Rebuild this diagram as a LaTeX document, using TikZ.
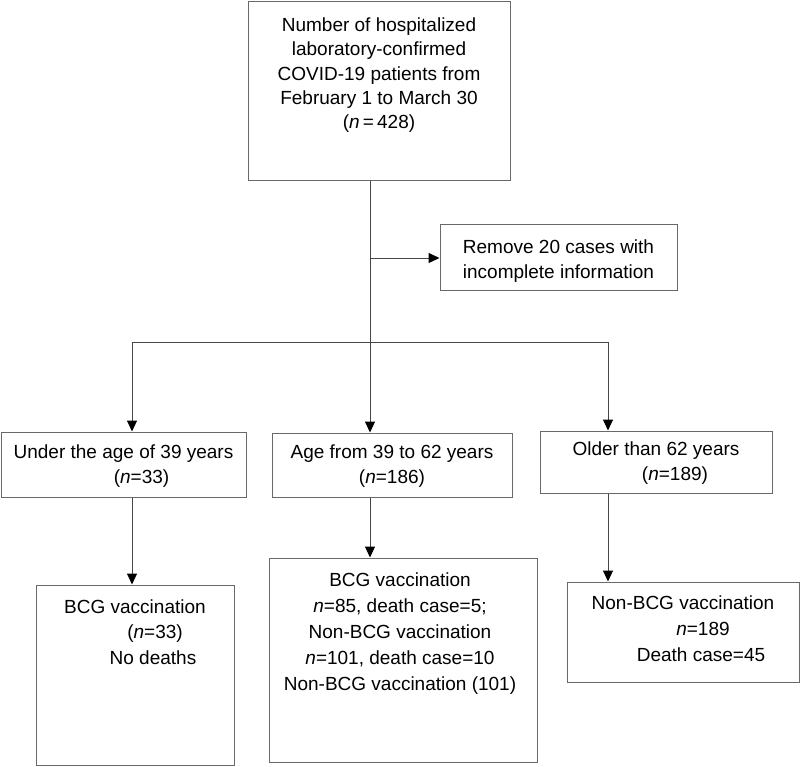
\documentclass[tikz,border=0pt]{standalone}
\usepackage{fontspec}
\setmainfont{Liberation Sans}
\usetikzlibrary{arrows.meta,positioning}
\definecolor{boxgray}{RGB}{105,105,105}
\definecolor{linegray}{RGB}{70,70,70}
\tikzset{
  box/.style={draw=boxgray, line width=1pt, inner sep=0pt},
  txt/.style={align=center, inner sep=0pt, font=\fontsize{19}{25.5}\selectfont},
  link/.style={draw=linegray, line width=1pt},
  flow/.style={link, -{Triangle[length=11pt,width=10pt,color=black]}},
}
\newcommand{\flowbox}[5]{\node[box, minimum width=#4pt, minimum height=#5pt] (#1) at (#2,#3) {};}
\newcommand{\nn}{\textit{n}}

\begin{document}
\begin{tikzpicture}[x=1pt,y=-1pt]
\useasboundingbox (0,0) rectangle (800,766);
\flowbox{total}{379}{90.5}{262}{179}
\flowbox{removed}{558.5}{257}{237}{66}
\flowbox{younger}{123.5}{464.5}{245}{65}
\flowbox{middle}{392}{465}{240}{64}
\flowbox{older}{656}{462}{232}{62}
\flowbox{youngbcg}{135}{675}{198}{180}
\flowbox{midbcg}{403}{660}{268}{204}
\flowbox{oldbcg}{683}{632}{232}{100}

\node[txt, font=\fontsize{19}{24.3}\selectfont, below=17pt of total.north] (totaltext)
  {Number of hospitalized\\laboratory-confirmed\\COVID-19 patients from\\February 1 to March 30\\(\nn\,=\,428)};
\node[txt, font=\fontsize{19}{25}\selectfont, below=16pt of removed.north] (removedtext)
  {Remove 20 cases with\\incomplete information};
\node[txt, below=13pt of younger.north] (youngertext)
  {Under the age of 39 years\\\hspace*{36pt}(\nn=33)};
\node[txt, below=12pt of middle.north] (middletext)
  {Age from 39 to 62 years\\(\nn=186)};
\node[txt, below=11pt of older.north] (oldertext)
  {Older than 62 years\\\hspace*{38pt}(\nn=189)};
\node[txt, below=15pt of youngbcg.north] (youngbcgtext)
  {BCG vaccination\\\hspace*{40pt}(\nn=33)\\\hspace*{36pt}No deaths};
\node[txt, font=\fontsize{19}{26}\selectfont, below=15pt of midbcg.north, xshift=-3pt] (midbcgtext)
  {BCG vaccination\\\nn=85, death case=5;\\Non-BCG vaccination\\\nn=101, death case=10\\Non-BCG vaccination (101)};
\node[txt, font=\fontsize{19}{26}\selectfont, below=14pt of oldbcg.north] (oldbcgtext)
  {Non-BCG vaccination\\\hspace*{40pt}\nn=189\\\hspace*{36pt}Death case=45};

\coordinate (split) at (370,258);
\coordinate (bar) at (370,342);
\coordinate (barleft) at (132,342);
\coordinate (barright) at (608,342);

\draw[flow] (total.south -| bar) -- (bar |- middle.north);
\draw[flow] (split) -- (split -| removed.west);
\draw[link] (barleft) -- (barright);
\draw[flow] (barleft) -- (barleft |- younger.north);
\draw[flow] (barright) -- (barright |- older.north);
\draw[flow] (younger.south -| barleft) -- (barleft |- youngbcg.north);
\draw[flow] (middle.south -| bar) -- (bar |- midbcg.north);
\draw[flow] (older.south -| barright) -- (barright |- oldbcg.north);
\end{tikzpicture}
\end{document}
